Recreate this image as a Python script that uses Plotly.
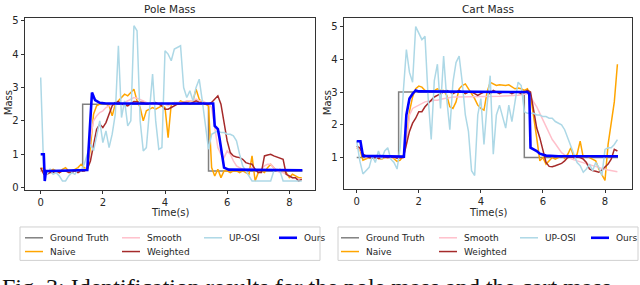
import plotly.graph_objects as go

# ---------------- data ----------------
T = [0.0, 0.1, 0.2, 0.3, 0.4, 0.5, 0.6, 0.7, 0.8, 0.9,
     1.0, 1.1, 1.2, 1.3, 1.4, 1.5, 1.6, 1.7, 1.8, 1.9,
     2.0, 2.1, 2.2, 2.3, 2.4, 2.5, 2.6, 2.7, 2.8, 2.9,
     3.0, 3.1, 3.2, 3.3, 3.4, 3.5, 3.6, 3.7, 3.8, 3.9,
     4.0, 4.1, 4.2, 4.3, 4.4, 4.5, 4.6, 4.7, 4.8, 4.9,
     5.0, 5.1, 5.2, 5.3, 5.4, 5.5, 5.6, 5.7, 5.8, 5.9,
     6.0, 6.1, 6.2, 6.3, 6.4, 6.5, 6.6, 6.7, 6.8, 6.9,
     7.0, 7.1, 7.2, 7.3, 7.4, 7.5, 7.6, 7.7, 7.8, 7.9,
     8.0, 8.1, 8.2, 8.3, 8.4]

# Pole mass
pole_gt_t = [0.0, 1.35, 1.35, 5.4, 5.4, 8.42]
pole_gt = [0.5, 0.5, 2.5, 2.5, 0.5, 0.5]
pole_naive = [0.55, 0.6, 0.45, 0.5, 0.55, 0.5, 0.45, 0.55, 0.6, 0.5,
              0.5, 0.55, 0.6, 0.7, 0.6, 0.55, 1.2, 2.2, 2.45, 2.5,
              2.55, 2.5, 2.45, 2.15, 2.5, 2.6, 2.7, 2.8, 2.75, 2.85,
              2.95, 2.6, 2.4, 2.0, 2.3, 2.35, 2.4, 2.35, 2.4, 2.45,
              2.4, 1.5, 2.5, 2.55, 2.5, 2.6, 2.55, 2.55, 2.6, 2.6,
              2.95, 2.65, 2.55, 2.5, 2.45, 0.6, 0.35, 0.55, 0.3, 0.5,
              0.5, 0.45, 0.5, 0.5, 0.45, 0.5, 0.45, 0.4, 0.95, 0.2,
              0.45, 0.5, 0.45, 0.6, 0.7, 0.6, 0.5, 0.55, 0.5, 0.45,
              0.3, 0.4, 0.35, 0.3, 0.3]
pole_smooth = [0.5, 0.45, 0.45, 0.5, 0.5, 0.5, 0.45, 0.5, 0.5, 0.5,
               0.5, 0.5, 0.5, 0.55, 0.5, 0.6, 1.5, 2.0, 2.15, 2.25,
               2.3, 2.4, 2.45, 2.5, 2.55, 2.55, 2.5, 2.55, 2.6, 2.65,
               2.7, 2.68, 2.65, 2.6, 2.55, 2.5, 2.5, 2.5, 2.5, 2.55,
               2.5, 2.45, 2.5, 2.55, 2.55, 2.55, 2.55, 2.6, 2.6, 2.6,
               2.65, 2.6, 2.6, 2.55, 2.5, 2.4, 1.8, 1.2, 1.0, 0.9,
               1.1, 1.0, 0.8, 0.65, 0.6, 0.55, 0.5, 0.55, 0.6, 0.55,
               0.5, 0.55, 0.65, 0.7, 0.7, 0.6, 0.5, 0.45, 0.45, 0.4,
               0.35, 0.3, 0.3, 0.25, 0.25]
pole_weighted = [0.6, 0.4, 0.4, 0.45, 0.45, 0.5, 0.45, 0.5, 0.5, 0.45,
                 0.45, 0.5, 0.45, 0.5, 0.5, 0.55, 0.8, 1.25, 1.75, 1.9,
                 1.8, 1.95, 2.2, 2.45, 2.55, 2.58, 2.5, 2.48, 2.45, 2.52,
                 2.58, 2.57, 2.55, 2.55, 2.5, 2.52, 2.55, 2.55, 2.5, 2.45,
                 2.35, 2.35, 2.4, 2.45, 2.5, 2.5, 2.55, 2.55, 2.5, 2.55,
                 2.6, 2.55, 2.55, 2.5, 2.5, 2.55, 2.65, 2.75, 2.5, 1.9,
                 1.4, 1.05, 0.95, 0.92, 0.9, 0.85, 0.75, 0.72, 0.7, 0.55,
                 0.45, 0.45, 0.95, 0.98, 1.0, 0.95, 0.92, 0.9, 0.85, 0.4,
                 0.35, 0.3, 0.3, 0.2, 0.25]
pole_uposi = [3.3, 0.45, 0.4, 0.55, 0.4, 0.45, 0.35, 0.2, 0.2, 0.35,
              0.45, 0.4, 0.55, 0.5, 0.7, 1.0, 1.3, 1.1, 1.55, 2.0,
              1.35, 1.7, 1.2, 1.6, 2.2, 4.25, 2.1, 2.6, 1.85, 2.0,
              4.85, 4.7, 2.0, 1.1, 1.2, 2.4, 3.4, 2.0, 1.15, 1.2,
              4.1, 4.0, 3.8, 4.15, 4.2, 4.25, 3.0, 2.7, 2.9, 2.6,
              3.0, 3.25, 2.6, 1.9, 1.15, 1.6, 1.65, 1.7, 1.65, 1.65,
              1.6, 1.6, 1.55, 1.4, 1.0, 0.65, 0.5, 0.35, 0.2, 0.2,
              0.2, 0.2, 0.2, 0.2, 0.2, 0.5, 0.55, 0.5, 0.2, 0.2,
              0.2, 0.2, 0.2, 0.2, 0.2]
pole_ours_t = [0.0, 0.1, 0.13, 0.17, 0.3, 1.5, 1.57, 1.65, 1.75, 1.9, 2.1,
               5.55, 5.6, 5.7, 5.75, 5.9, 6.05, 8.42]
pole_ours = [1.0, 1.0, 0.2, 0.5, 0.5, 0.53, 1.6, 2.85, 2.62, 2.54, 2.52,
             2.52, 1.85, 1.75, 1.5, 0.6, 0.54, 0.52]

# Cart mass
cart_gt_t = [0.0, 1.35, 1.35, 5.4, 5.4, 8.42]
cart_gt = [1.0, 1.0, 3.0, 3.0, 1.0, 1.0]
cart_naive = [1.3, 1.25, 0.92, 0.95, 1.0, 0.98, 1.02, 0.97, 0.95, 1.0,
              1.0, 1.05, 0.95, 0.88, 0.92, 1.05, 1.5, 2.4, 2.85, 3.1,
              3.18, 3.15, 3.05, 3.0, 3.0, 3.05, 3.1, 3.05, 3.05, 2.9,
              2.55, 2.5, 2.7, 3.1, 3.2, 3.25, 3.1, 2.95, 2.8, 2.6,
              2.5, 2.45, 3.0, 3.3, 3.25, 3.2, 3.22, 3.2, 3.2, 3.22,
              3.15, 3.1, 3.12, 3.1, 3.05, 3.1, 2.9, 2.3, 1.6, 0.9,
              1.0, 0.8, 0.9, 1.0, 0.95, 1.0, 1.05, 0.98, 1.1, 1.3,
              1.0, 1.1, 1.5, 1.0, 1.05, 1.0, 0.95, 0.9, 0.65, 0.45,
              0.3, 1.4, 2.0, 2.7, 3.85]
cart_smooth = [1.3, 1.25, 1.1, 1.0, 1.0, 1.0, 1.0, 0.98, 0.98, 1.0,
               1.0, 1.0, 1.0, 0.98, 1.0, 1.0, 1.4, 2.3, 2.5, 2.55,
               2.6, 2.65, 2.7, 2.72, 2.72, 2.75, 2.75, 2.78, 2.8, 2.82,
               2.85, 2.85, 2.85, 2.85, 2.85, 2.85, 2.85, 2.85, 2.85, 2.85,
               2.85, 2.85, 2.85, 2.85, 2.85, 2.87, 2.87, 2.88, 2.88, 2.9,
               2.9, 2.9, 2.9, 2.92, 2.93, 2.95, 2.85, 2.7, 2.55, 2.35,
               2.15, 1.95, 1.75, 1.55, 1.42, 1.3, 1.15, 1.08, 1.02, 0.97,
               0.93, 0.9, 0.87, 0.83, 0.8, 0.77, 0.74, 0.72, 0.69, 0.66,
               0.64, 0.62, 0.6, 0.58, 0.57]
cart_weighted = [1.35, 1.3, 1.1, 1.05, 1.0, 0.98, 1.0, 0.97, 1.0, 1.02,
                 1.0, 1.0, 1.02, 0.98, 1.0, 1.0, 1.4, 1.8, 2.05, 2.2,
                 2.4, 2.4, 2.55, 2.65, 2.75, 2.85, 2.9, 2.95, 3.0, 3.05,
                 3.0, 2.95, 3.0, 3.05, 3.0, 2.95, 3.0, 3.0, 2.95, 2.9,
                 2.95, 3.0, 3.0, 2.95, 3.05, 3.0, 2.95, 3.0, 3.0, 3.0,
                 2.95, 3.0, 3.0, 2.95, 3.0, 3.05, 3.0, 2.5, 1.9, 1.6,
                 1.2, 0.85, 0.73, 0.72, 0.75, 0.78, 0.82, 0.9, 1.0, 1.02,
                 1.0, 1.02, 1.0, 0.95, 0.85, 0.65, 0.6, 0.58, 0.55, 0.62,
                 0.7, 0.8, 0.95, 1.25, 1.2]
cart_uposi = [1.5, 0.9, 0.5, 0.6, 0.7, 1.05, 0.85, 1.2, 0.95, 1.2,
              1.3, 0.95, 0.85, 0.65, 1.3, 3.0, 4.3, 3.6, 3.3, 5.0,
              4.8, 4.6, 4.7, 2.85, 1.55, 3.35, 3.85, 2.5, 4.1, 2.8,
              1.85, 3.3, 3.9, 4.1, 3.3, 2.3, 1.8, 0.6, 0.45, 2.3,
              2.8, 1.4, 2.6, 3.5, 1.1, 2.3, 2.6, 2.2, 1.9, 2.6,
              2.1, 2.7, 3.3, 3.2, 2.4, 2.35, 2.35, 2.35, 2.3, 2.3,
              2.25, 2.25, 2.2, 2.2, 2.1, 2.05, 2.0, 1.85, 1.6, 1.35,
              1.1, 0.85, 0.75, 0.55, 0.65, 0.8, 0.6, 0.85, 0.7, 0.45,
              1.25, 1.3, 1.3, 1.4, 1.55]
cart_ours_t = [0.0, 0.12, 0.2, 1.52, 1.6, 1.7, 1.8, 1.9, 2.0,
               5.5, 5.56, 5.6, 5.8, 5.9, 6.1, 6.5, 8.42]
cart_ours = [1.5, 1.5, 1.05, 1.03, 2.3, 2.8, 2.95, 3.05, 3.02,
             3.0, 2.95, 1.3, 1.2, 1.12, 1.06, 1.04, 1.04]

series_names = ["Ground Truth", "Naive", "Smooth", "Weighted", "UP-OSI", "Ours"]
series_colors = ["#808080", "#FFA500", "#FFC0CB", "#A52A2A", "#ADD8E6", "#0000FF"]
series_widths = [1.5, 1.5, 1.5, 1.5, 1.5, 2.6]

titles = ["Pole Mass", "Cart Mass"]
xticks = [0, 2, 4, 6, 8]
yticks = [0, 1, 2, 3, 4, 5]
caption = "Fig. 3: Identification results for the pole mass and the cart mass."

# ---------------- layout helpers ----------------
W, H = 640, 285
def px(x):
    return x / W
def py(y):
    return 1 - y / H

FONT = "DejaVu Sans, sans-serif"
TXT = "#262626"

fig = go.Figure()

panels = [
    dict(xa="x", ya="y",
         series=[(pole_gt_t, pole_gt), (T, pole_naive), (T, pole_smooth),
                 (T, pole_weighted), (T, pole_uposi), (pole_ours_t, pole_ours)]),
    dict(xa="x2", ya="y2",
         series=[(cart_gt_t, cart_gt), (T, cart_naive), (T, cart_smooth),
                 (T, cart_weighted), (T, cart_uposi), (cart_ours_t, cart_ours)]),
]

for p in panels:
    for (tx, vy), name, col, w in zip(p["series"], series_names, series_colors, series_widths):
        fig.add_trace(go.Scatter(x=tx, y=vy, mode="lines", name=name,
                                 line=dict(color=col, width=w),
                                 xaxis=p["xa"], yaxis=p["ya"], showlegend=False))

axis_common = dict(showline=True, mirror=True, linecolor="#333333", linewidth=1,
                   ticks="outside", ticklen=3.5, tickwidth=1, tickcolor="#333333",
                   showgrid=False, zeroline=False,
                   tickfont=dict(family=FONT, size=10, color=TXT))

fig.update_layout(
    width=W, height=H,
    margin=dict(l=0, r=0, t=0, b=0),
    paper_bgcolor="white", plot_bgcolor="white",
    xaxis=dict(domain=[px(25), px(315)], range=[-0.505, 8.826], tickvals=xticks,
               anchor="y", **axis_common),
    yaxis=dict(domain=[py(191), py(16)], range=[-0.06, 5.09], tickvals=yticks,
               anchor="x", **axis_common),
    xaxis2=dict(domain=[px(344), px(632)], range=[-0.41, 8.87], tickvals=xticks,
                anchor="y2", **axis_common),
    yaxis2=dict(domain=[py(190), py(16)], range=[0.05, 5.27], tickvals=[1, 2, 3, 4, 5],
                anchor="x2", **axis_common),
)

ann = []
shapes = []
# titles and axis labels
for cx, ttl, mx in [(170, titles[0], 8), (488, titles[1], 327)]:
    ann.append(dict(x=px(cx), y=py(7), xref="paper", yref="paper", text=ttl,
                    showarrow=False, xanchor="center", yanchor="middle",
                    font=dict(family=FONT, size=10.5, color=TXT)))
    ann.append(dict(x=px(cx), y=py(214.5), xref="paper", yref="paper", text="Time(s)",
                    showarrow=False, xanchor="center", yanchor="middle",
                    font=dict(family=FONT, size=10, color=TXT)))
    ann.append(dict(x=px(mx), y=py(103), xref="paper", yref="paper", text="Mass",
                    showarrow=False, xanchor="center", yanchor="middle", textangle=-90,
                    font=dict(family=FONT, size=10, color=TXT)))

# legends (drawn per panel)
legend_layout = [  # (box left, box right, [(line x0, row idx) per series])
    (20, 320, [(25, 0), (25, 1), (122, 0), (122, 1), (204, 0), (279, 0)]),
    (338, 638, [(341, 0), (341, 1), (439, 0), (439, 1), (520, 0), (591, 0)]),
]
rows_y = [240, 254]
for bl, br, entries in legend_layout:
    shapes.append(dict(type="rect", xref="paper", yref="paper",
                       x0=px(bl), x1=px(br), y0=py(263), y1=py(229),
                       line=dict(color="#d0d0d0", width=1), fillcolor="white", layer="above"))
    for (lx, r), name, col, w in zip(entries, series_names, series_colors, series_widths):
        yy = rows_y[r]
        shapes.append(dict(type="line", xref="paper", yref="paper",
                           x0=px(lx), x1=px(lx + 18), y0=py(yy), y1=py(yy),
                           line=dict(color=col, width=w), layer="above"))
        ann.append(dict(x=px(lx + 23), y=py(yy), xref="paper", yref="paper", text=name,
                        showarrow=False, xanchor="left", yanchor="middle",
                        font=dict(family=FONT, size=9, color=TXT)))

# caption (only its top part is visible at the bottom edge)
ann.append(dict(x=0, y=py(275), xref="paper", yref="paper", text=caption,
                showarrow=False, xanchor="left", yanchor="top",
                font=dict(family="Liberation Serif, serif", size=24, color="#111111")))

fig.update_layout(annotations=ann, shapes=shapes)
fig.write_html("out.html", config={"displayModeBar": False},
               post_script="document.body.style.margin='0';")
